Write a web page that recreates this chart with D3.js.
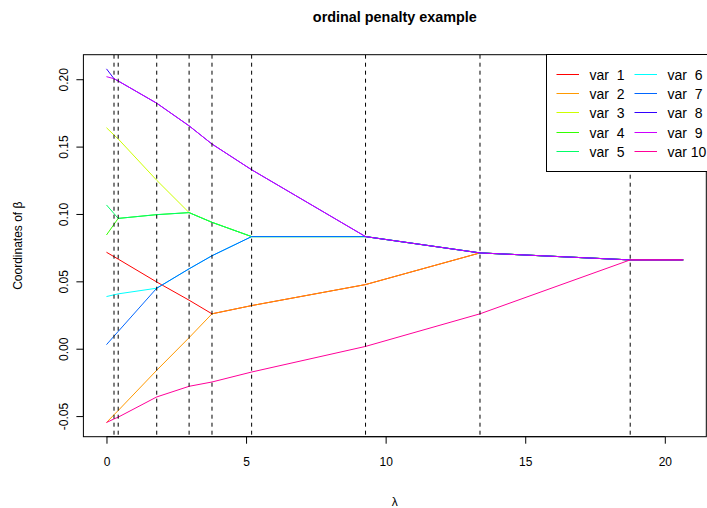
<!DOCTYPE html>
<html>
<head>
<meta charset="utf-8">
<script src="https://cdn.jsdelivr.net/npm/d3@7"></script>
<style>
  body { margin: 0; background: #fff; }
  text { font-family: "Liberation Sans", Arial, sans-serif; }
</style>
</head>
<body>
<div class="graph_path"></div>
<script>
// lambda values where the path changes (first = 0, last = end of path)
const lambdas = [0, 0.27, 0.42, 1.80, 2.96, 3.78, 5.20, 9.28, 13.38, 18.76, 20.66];

// coefficient of each variable at every lambda above
const var1  = [0.0716, 0.0683, 0.0665, 0.0495, 0.0360, 0.0259, 0.0320, 0.0476, 0.0711, 0.0659, 0.0659];
const var2  = [-0.0548, -0.0490, -0.0459, -0.0160, 0.0082, 0.0259, 0.0320, 0.0476, 0.0711, 0.0659, 0.0659];
const var3  = [0.1640, 0.1586, 0.1557, 0.1250, 0.1010, 0.0938, 0.0832, 0.0832, 0.0711, 0.0659, 0.0659];
const var4  = [0.0844, 0.0923, 0.0967, 0.0995, 0.1010, 0.0938, 0.0832, 0.0832, 0.0711, 0.0659, 0.0659];
const var5  = [0.1067, 0.1003, 0.0967, 0.0995, 0.1010, 0.0938, 0.0832, 0.0832, 0.0711, 0.0659, 0.0659];
const var6  = [0.0387, 0.0400, 0.0407, 0.0449, 0.0593, 0.0690, 0.0832, 0.0832, 0.0711, 0.0659, 0.0659];
const var7  = [0.0030, 0.0093, 0.0128, 0.0449, 0.0593, 0.0690, 0.0832, 0.0832, 0.0711, 0.0659, 0.0659];
const var8  = [0.2077, 0.2004, 0.1987, 0.1822, 0.1654, 0.1519, 0.1328, 0.0832, 0.0711, 0.0659, 0.0659];
const var9  = [0.2019, 0.2004, 0.1987, 0.1822, 0.1654, 0.1519, 0.1328, 0.0832, 0.0711, 0.0659, 0.0659];
const var10 = [-0.0548, -0.0521, -0.0508, -0.0358, -0.0279, -0.0247, -0.0173, 0.0017, 0.0259, 0.0659, 0.0659];

const varNames = ["var  1", "var  2", "var  3", "var  4", "var  5", "var  6", "var  7", "var  8", "var  9", "var 10"];
const xTicks = [0, 5, 10, 15, 20];
const yTicks = [-0.05, 0, 0.05, 0.10, 0.15, 0.20];

// rainbow(10)
const colors = ["#FF0000", "#FF9900", "#CCFF00", "#33FF00", "#00FF66", "#00FFFF", "#0066FF", "#3300FF", "#CC00FF", "#FF0099"];

const series = [var1, var2, var3, var4, var5, var6, var7, var8, var9, var10]
  .map((vals, i) => ({name: varNames[i], color: colors[i], value: vals.map((v, j) => ({lambda: lambdas[j], beta: v}))}));

const width = 707, height = 508;
const margin = {top: 54.7, bottom: 71.3, left: 83.4, right: 0.7};

const svg = d3.select(".graph_path").append("svg").attr("width", width).attr("height", height);

// R style 4% padding on each side
function padded(ext){
  const d = (ext[1] - ext[0]) * 0.04;
  return [ext[0] - d, ext[1] + d];
}
const allPoints = d3.merge(series.map(d => d.value));

const x = d3.scaleLinear()
  .domain(padded(d3.extent(allPoints, d => d.lambda)))
  .range([margin.left, width - margin.right]);

const y = d3.scaleLinear()
  .domain(padded(d3.extent(allPoints, d => d.beta)))
  .range([height - margin.bottom, margin.top]);

svg.append("clipPath").attr("id", "plotclip")
  .append("rect")
  .attr("x", margin.left).attr("y", margin.top)
  .attr("width", width - margin.left - margin.right)
  .attr("height", height - margin.top - margin.bottom);

const plot = svg.append("g").attr("clip-path", "url(#plotclip)");

// paths
const lineGenerator = d3.line().x(d => x(d.lambda)).y(d => y(d.beta));
plot.append("g")
  .selectAll("path")
  .data(series)
  .join("path")
  .attr("d", d => lineGenerator(d.value))
  .attr("fill", "none")
  .attr("stroke", d => d.color)
  .attr("stroke-width", 1);

// dashed lines at the knots
plot.append("g")
  .selectAll("line")
  .data(lambdas.slice(1, -1))
  .join("line")
  .attr("x1", d => x(d)).attr("x2", d => x(d))
  .attr("y1", margin.top).attr("y2", height - margin.bottom)
  .attr("stroke", "#000")
  .attr("stroke-width", 1)
  .attr("stroke-dasharray", "4,4");

// box
svg.append("rect")
  .attr("x", margin.left).attr("y", margin.top)
  .attr("width", width - margin.left - margin.right)
  .attr("height", height - margin.top - margin.bottom)
  .attr("fill", "none").attr("stroke", "#000").attr("stroke-width", 1);

// axes
const fmtY = d => d3.format(".2f")(d).replace("\u2212", "-");
const xAxis = d3.axisBottom(x).tickValues(xTicks).tickSize(7).tickPadding(14).tickFormat(d3.format("d"));
const gx = svg.append("g").attr("transform", `translate(0, ${height - margin.bottom})`).call(xAxis);
gx.select(".domain").attr("d", `M${x(xTicks[0])},0H${x(xTicks[xTicks.length - 1])}`);
gx.selectAll("text").attr("font-size", 12).attr("fill", "#000").style("font-family", "Liberation Sans, Arial, sans-serif");

const yAxis = d3.axisLeft(y).tickValues(yTicks).tickSize(7).tickFormat(fmtY);
const gy = svg.append("g").attr("transform", `translate(${margin.left}, 0)`).call(yAxis);
gy.select(".domain").attr("d", `M0,${y(yTicks[0])}V${y(yTicks[yTicks.length - 1])}`);
gy.selectAll(".tick text")
  .attr("x", null).attr("dy", null)
  .attr("transform", "translate(-15, 0) rotate(-90)")
  .attr("text-anchor", "middle")
  .attr("font-size", 12).attr("fill", "#000")
  .style("font-family", "Liberation Sans, Arial, sans-serif");

// titles
svg.append("text")
  .attr("x", (margin.left + width - margin.right) / 2)
  .attr("y", 22)
  .attr("text-anchor", "middle")
  .attr("font-size", 14.4)
  .attr("font-weight", "bold")
  .text("ordinal penalty example");

svg.append("text")
  .attr("x", (margin.left + width - margin.right) / 2)
  .attr("y", 506)
  .attr("text-anchor", "middle")
  .attr("font-size", 12)
  .text("\u03bb");

svg.append("text")
  .attr("transform", `translate(22, ${(height - margin.bottom + margin.top) / 2}) rotate(-90)`)
  .attr("text-anchor", "middle")
  .attr("font-size", 12)
  .text("Coordinates of \u03b2");

// legend
const legend = svg.append("g").attr("transform", "translate(546.5, 54.5)");
legend.append("rect")
  .attr("x", 0).attr("y", 0)
  .attr("width", 200).attr("height", 117)
  .attr("fill", "#fff").attr("stroke", "#000").attr("stroke-width", 1);

const items = legend.selectAll("g.item")
  .data(series)
  .join("g")
  .attr("class", "item")
  .attr("transform", (d, i) => `translate(${Math.floor(i / 5) * 78}, ${Math.round(19.5 + (i % 5) * 19.4)})`);

items.append("line")
  .attr("x1", 10).attr("x2", 32.5)
  .attr("stroke", d => d.color)
  .attr("stroke-width", 1);

items.append("text")
  .attr("x", 43)
  .attr("dy", "0.36em")
  .attr("font-size", 14)
  .style("white-space", "pre")
  .text(d => d.name);
</script>
</body>
</html>
